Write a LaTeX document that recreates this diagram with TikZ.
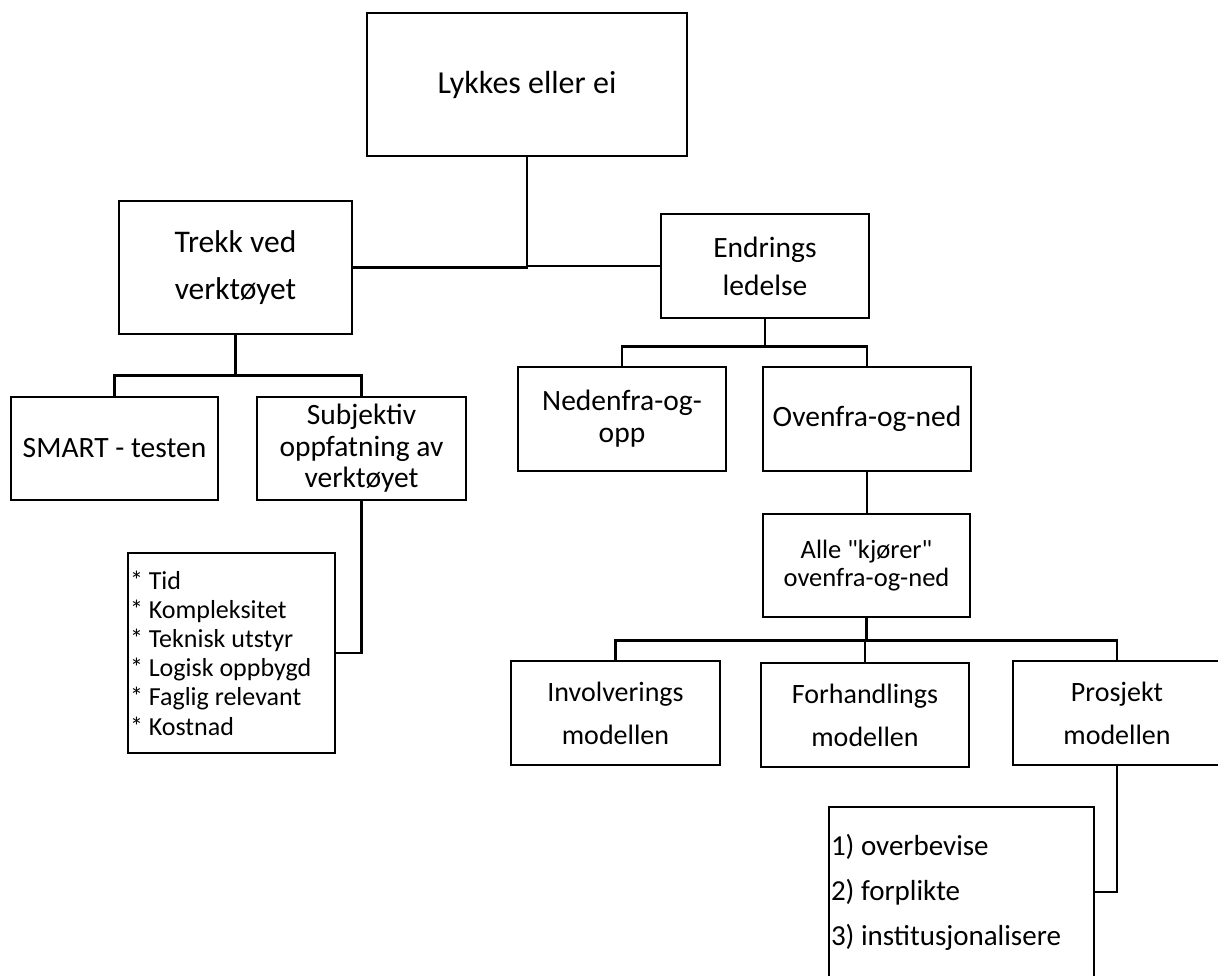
\documentclass[tikz,border=0pt]{standalone}
\usepackage{fontspec}
\setmainfont{Carlito}[Ligatures=TeXOff]
\begin{document}
\begin{tikzpicture}[x=1pt,y=-1pt,
  box/.style={draw, line width=2.9pt, align=center, inner sep=0pt},
  listbox/.style={draw, line width=2.9pt, align=left, inner xsep=2pt, inner ysep=0pt},
  wire/.style={line width=2.9pt},
  f31/.style={font=\fontsize{31.5}{47}\selectfont},
  f29/.style={font=\fontsize{29.5}{38}\selectfont},
  f29s/.style={font=\fontsize{29.5}{31.5}\selectfont},
  f28/.style={font=\fontsize{28}{43}\selectfont},
  f26/.style={font=\fontsize{26.5}{28}\selectfont}]
\useasboundingbox (0,0) rectangle (1218,976);
\clip (0,0) rectangle (1218,976);

\node[box,font=\fontsize{32}{38}\selectfont,minimum width=320pt,minimum height=143pt] (lyk) at (527,84.5) {Lykkes eller ei};
\node[box,f31,minimum width=233pt,minimum height=133pt] (trekk) at (235.5,267.5) {Trekk ved\\verktøyet};
\node[box,f29,minimum width=208pt,minimum height=104pt] (endr) at (765,266) {Endrings\\ledelse};

\node[box,f29,minimum width=207pt,minimum height=103pt] (smart) at (114.5,448.5) {SMART - testen};
\node[box,f29s,minimum width=209pt,minimum height=103pt] (subj) at (361.5,448.5) {Subjektiv\\oppfatning av\\verktøyet};
\node[listbox,text width=203pt,minimum height=200pt,font=\fontsize{26}{29.2}\selectfont] (list1) at (231.5,653)
  {\spaceskip=0pt\xspaceskip=0pt{*} Tid\\{*} Kompleksitet\\{*} Teknisk utstyr\\{*} Logisk oppbygd\\{*} Faglig relevant\\{*} Kostnad};

\node[box,font=\fontsize{29.5}{32}\selectfont,minimum width=208pt,minimum height=104pt] (ned) at (622,419) {Nedenfra-og-\\opp};
\node[box,f29,minimum width=208pt,minimum height=104pt] (oven) at (867,419) {Ovenfra-og-ned};
\node[box,f26,minimum width=207pt,minimum height=103pt] (alle) at (866.5,565.5) {Alle "kjører"\\ovenfra-og-ned};

\node[box,f28,minimum width=209pt,minimum height=104pt] (inv) at (615.5,713) {Involverings\\modellen};
\node[box,f28,minimum width=208pt,minimum height=104pt] (forh) at (865,715) {Forhandlings\\modellen};
\node[box,f28,minimum width=208pt,minimum height=104pt] (pros) at (1117,713) {Prosjekt\\modellen};
\node[listbox,text width=261pt,minimum height=170pt,font=\fontsize{29}{45}\selectfont] (list2) at (961.5,892)
  {\spaceskip=0pt\xspaceskip=0pt 1) overbevise\\2) forplikte\\3) institusjonalisere};

% connectors
\draw[wire] (lyk.south) |- (trekk.east);
\draw[wire] (lyk.south) |- (endr.west);
\draw[wire] (trekk.south) -- ++(0,40) coordinate (tb);
\draw[wire] (smart.north) |- (tb) -| (subj.north);
\draw[wire] (subj.south) |- (list1.east);
\draw[wire] (endr.south) -- ++(0,27) coordinate (eb);
\draw[wire] (ned.north) |- (eb) -| (oven.north);
\draw[wire] (oven.south) -- (oven.south |- alle.north);
\draw[wire] (alle.south) -- ++(0,22) coordinate (ab);
\draw[wire] (inv.north) |- (ab) -| (pros.north);
\draw[wire] (forh.north) -- (forh.north |- ab);
\draw[wire] (pros.south) |- (list2.east);
\end{tikzpicture}
\end{document}
